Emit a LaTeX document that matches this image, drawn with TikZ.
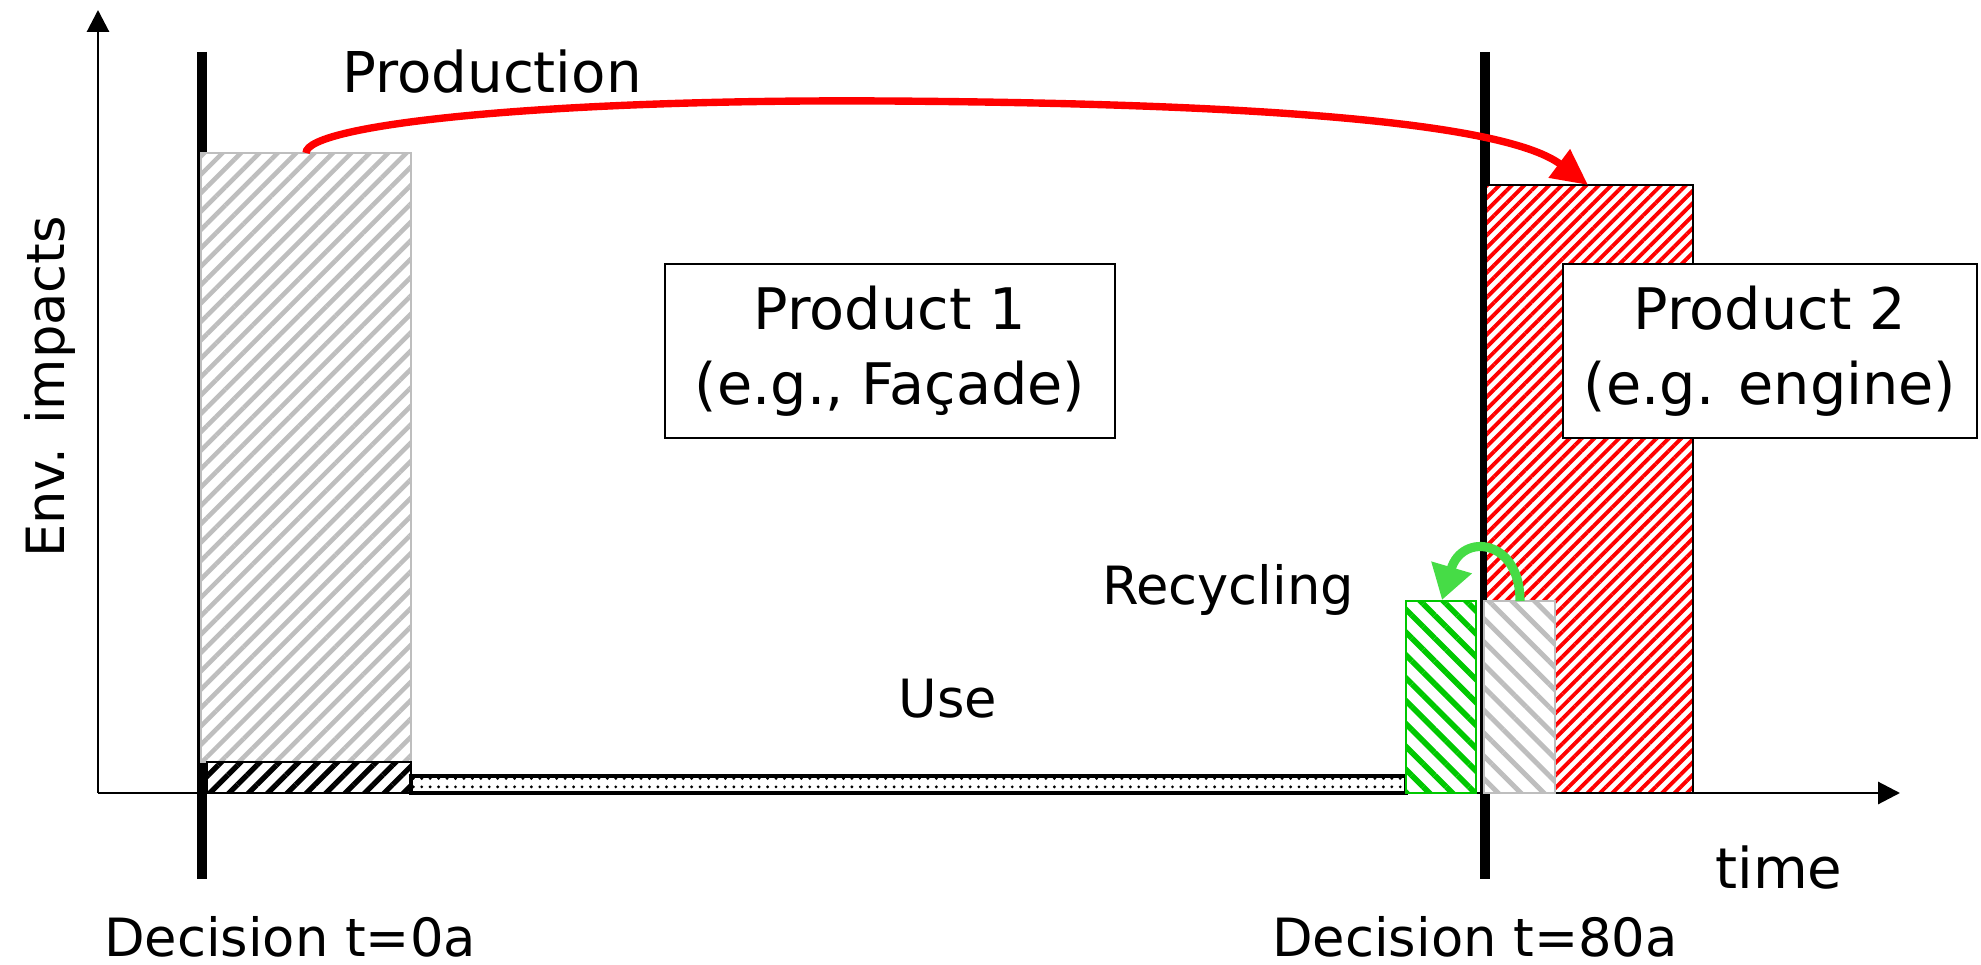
\documentclass[tikz,border=0pt]{standalone}
\usepackage{fontspec}
\setmainfont{DejaVu Sans}
\usetikzlibrary{arrows.meta}
\usetikzlibrary{patterns.meta}
\definecolor{hatchgray}{RGB}{190,190,190}
\definecolor{bargreen}{RGB}{0,200,0}
\definecolor{arrowgreen}{RGB}{70,220,70}
\tikzset{axis/.style = {line width=0.85pt, -{Triangle[length=0.22cm,width=0.22cm]}}}
\tikzset{decision/.style = {line width=2.85pt}}
\tikzset{
graybar/.style = {draw=hatchgray, line width=0.8pt, preaction={fill=white},
                  pattern={Lines[angle=45,distance=3.7pt,line width=1.3pt]}, pattern color=hatchgray},
blackbar/.style = {draw=black, line width=0.5pt, preaction={fill=white},
                   pattern={Lines[angle=45,distance=3.9pt,line width=1.5pt]}, pattern color=black},
usebar/.style = {draw=black, line width=0.9pt, preaction={fill=white},
                 pattern={Dots[distance=2.4pt,radius=0.45pt]}, pattern color=black},
redbar/.style = {draw=black, line width=0.6pt, preaction={fill=white},
                 pattern={Lines[angle=45,distance=2.5pt,line width=1.1pt]}, pattern color=red},
greenbar/.style = {draw=bargreen, line width=0.8pt, preaction={fill=white},
                   pattern={Lines[angle=-45,distance=4.6pt,line width=1.6pt]}, pattern color=bargreen},
recbar/.style = {draw=hatchgray, line width=0.8pt, preaction={fill=white},
                 pattern={Lines[angle=-45,distance=4.6pt,line width=1.4pt]}, pattern color=hatchgray},
redarrow/.style = {draw=red, line width=2.1pt, -{Triangle[length=0.36cm,width=0.34cm]}},
greenarrow/.style = {draw=arrowgreen, line width=2.6pt, -{Triangle[length=0.34cm,width=0.40cm]}},
box/.style = {draw, fill=white, line width=0.6pt, minimum height=1.74cm, inner sep=0pt,
              align=center, font=\fontsize{16.3}{21.3}\selectfont},
bigtxt/.style = {anchor=base, inner sep=0pt, font=\fontsize{16}{19}\selectfont},
smalltxt/.style = {anchor=base, inner sep=0pt, font=\fontsize{15}{18}\selectfont}
}

\begin{document}
\begin{tikzpicture}
		\useasboundingbox (0,0) rectangle (19.81,9.64);
		\node (0) at (0.98, 1.71) {};
		\node (1) at (0.98, 9.54) {};
		\node (2) at (19.00, 1.71) {};
		\node (3) at (2.02, 9.12) {};
		\node (4) at (2.02, 0.85) {};
		\node (5) at (14.85, 9.12) {};
		\node (6) at (14.85, 0.85) {};
		\node (7) at (2.01, 2.02) {};
		\node (8) at (4.11, 8.11) {};
		\node (9) at (2.07, 1.71) {};
		\node (10) at (4.11, 2.02) {};
		\node (11) at (4.11, 1.71) {};
		\node (12) at (14.06, 1.88) {};
		\node (13) at (14.06, 1.71) {};
		\node (14) at (14.76, 3.63) {};
		\node (15) at (14.86, 1.71) {};
		\node (16) at (16.93, 7.79) {};
		\node (17) at (14.84, 1.71) {};
		\node (18) at (15.55, 3.63) {};
		\node (19) at (3.06, 8.11) {};
		\node (20) at (8.84, 8.63) {};
		\node (21) at (15.88, 7.79) {};
		\node (22) at (15.20, 3.63) {};
		\node (23) at (14.42, 3.64) {};
		\draw [axis] (0.center) to (1.center);
		\draw [axis] (0.center) to (2.center);
		\draw [decision] (3.center) to (4.center);
		\draw [decision] (5.center) to (6.center);
		\draw [graybar] (7.center) rectangle (8.center);
		\draw [blackbar] (9.center) rectangle (10.center);
		\draw [usebar] (11.center) rectangle (12.center);
		\draw [greenbar] (13.center) rectangle (14.center);
		\draw [redbar] (15.center) rectangle (16.center);
		\draw [recbar] (17.center) rectangle (18.center);
		\draw [redarrow] (19.center) .. controls (3.06, 8.40) and (5.5, 8.65) .. (20.center)
			.. controls (12.2, 8.61) and (15.0, 8.45) .. (21.center);
		\draw [greenarrow] (22.center) .. controls (15.20, 4.25) and (14.62, 4.32) .. (23.center);
		\node [box, minimum width=4.50cm] (24) at (8.90, 6.13) {Product 1\\(e.g., Façade)};
		\node [box, minimum width=4.14cm] (25) at (17.70, 6.13) {Product 2\\(e.g. engine)};
		\node [bigtxt] (26) at (4.92, 8.71) {Production};
		\node [smalltxt, rotate=90] (27) at (0.64, 5.77) {Env. impacts};
		\node [smalltxt] (28) at (9.48, 2.47) {Use};
		\node [smalltxt] (29) at (12.28, 3.59) {Recycling};
		\node [bigtxt] (30) at (17.79, 0.76) {time};
		\node [smalltxt] (31) at (2.90, 0.08) {Decision t=0a};
		\node [smalltxt] (32) at (14.75, 0.08) {Decision t=80a};
	\end{tikzpicture}
\end{document}
